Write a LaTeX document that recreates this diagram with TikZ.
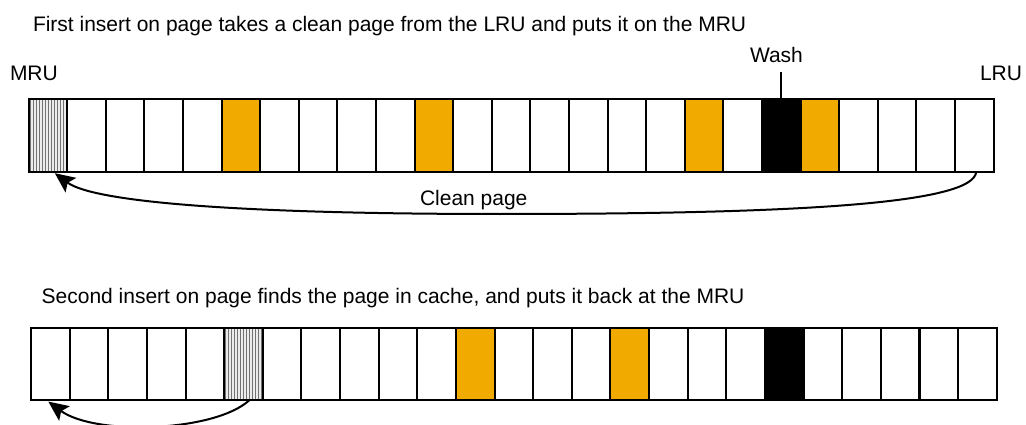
\documentclass[tikz,border=0pt]{standalone}
\usepackage{fontspec}
\setmainfont{Liberation Sans}
\usetikzlibrary{arrows.meta,calc}
\definecolor{pageorange}{RGB}{240,170,0}
\begin{document}
\begin{tikzpicture}[x=1pt,y=-1pt,
  cleancell/.style={draw=black, line width=2pt, minimum width=38.6pt, minimum height=72.4pt, inner sep=0pt, outer sep=0pt, fill=white},
  dirtycell/.style={cleancell, fill=pageorange},
  washcell/.style={cleancell, fill=black},
  mrucell/.style={cleancell, fill=gray!15, path picture={
      \foreach \k in {0,...,12}{
        \draw[gray!90!black, line width=1pt] ($(path picture bounding box.north west)+(1.5+3*\k,0)$) -- ++(0,80);
      }}},
  lbl/.style={inner sep=0pt, outer sep=0pt, font=\fontsize{21}{25}\selectfont, anchor=base west},
  conn/.style={line width=2pt, -{Stealth[length=20pt,width=18pt,inset=4pt]}}
]
\useasboundingbox (0,0) rectangle (1026,425);
\clip (0,0) rectangle (1026,425);

% top row
\foreach \s [count=\i from 0] in {mrucell,cleancell,cleancell,cleancell,cleancell,dirtycell,cleancell,cleancell,cleancell,cleancell,dirtycell,cleancell,cleancell,cleancell,cleancell,cleancell,cleancell,dirtycell,cleancell,washcell,dirtycell,cleancell,cleancell,cleancell,cleancell}{
  \node[\s] (t\i) at ({28.5+38.6*(\i+0.5)},135.5) {};
}
% bottom row
\foreach \s [count=\i from 0] in {cleancell,cleancell,cleancell,cleancell,cleancell,mrucell,cleancell,cleancell,cleancell,cleancell,cleancell,dirtycell,cleancell,cleancell,cleancell,dirtycell,cleancell,cleancell,cleancell,washcell,cleancell,cleancell,cleancell,cleancell,cleancell}{
  \node[\s] (b\i) at ({31+38.63*(\i+0.5)},363.9) {};
}

% labels
\node[lbl] (title1) at (33,31.7) {First insert on page takes a clean page from the LRU and puts it on the MRU};
\node[lbl] (mru) at (10,80.7) {MRU};
\node[lbl] (lru) at (980,80.7) {LRU};
\node[lbl] (wash) at (750,62.7) {Wash};
\node[lbl] (clean) at (420,205.7) {Clean page};
\node[lbl] (title2) at (41.7,303) {Second insert on page finds the page in cache, and puts it back at the MRU};

% wash marker
\draw[line width=2pt] ([yshift=-9pt]wash.south -| t19.north) -- (t19.north);

% connectors
\draw[conn] ($(t24.south)+(2,0)$) .. controls ($(t24.south)+(0,32)$) and (800,214) .. (500,214)
  .. controls (250,214) and (95,203) .. ($(t0.south)+(7,1.5)$);
\draw[conn] ($(b5.south)+(6,0)$) .. controls (215,432) and (95,436) .. ($(b0.south)+(-2,1.5)$);
\end{tikzpicture}
\end{document}
